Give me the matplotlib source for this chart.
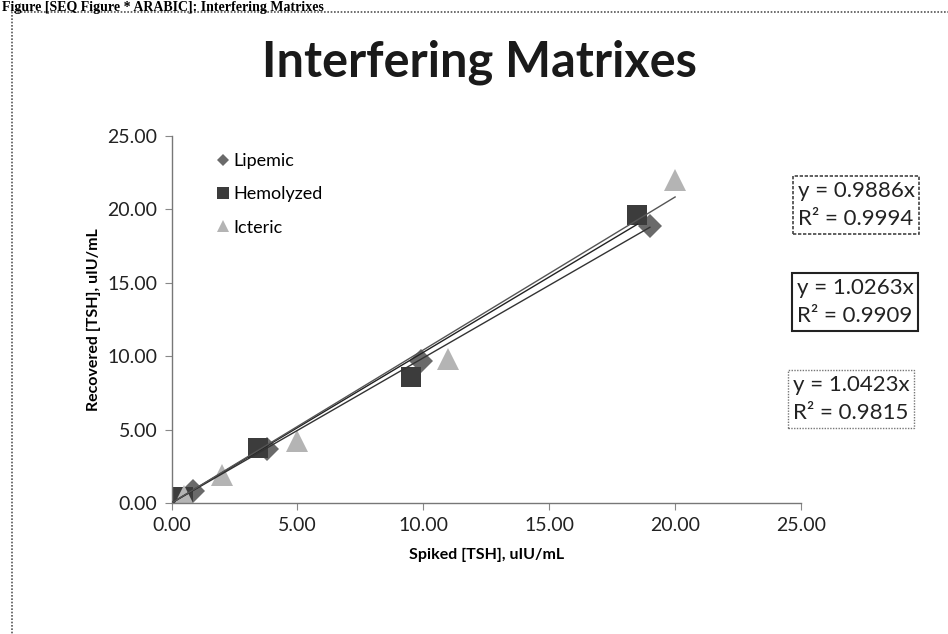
import matplotlib
matplotlib.use("Agg")
import matplotlib.pyplot as plt
import numpy as np
from matplotlib.lines import Line2D
from matplotlib.patches import Rectangle

# ---- data ----
series_names = ["Lipemic", "Hemolyzed", "Icteric"]
lipemic_x = [0.85, 3.8, 9.9, 19.0]
lipemic_y = [0.85, 3.7, 9.7, 18.9]
hemolyzed_x = [0.45, 3.45, 9.5, 18.5]
hemolyzed_y = [0.4, 3.75, 8.6, 19.6]
icteric_x = [0.5, 2.0, 5.0, 11.0, 20.0]
icteric_y = [0.5, 1.9, 4.2, 9.8, 22.0]
slopes = [0.9886, 1.0263, 1.0423]
r2 = [0.9994, 0.9909, 0.9815]
x_ticks = [0, 5, 10, 15, 20, 25]
y_ticks = [0, 5, 10, 15, 20, 25]

W, H = 948, 634
fig = plt.figure(figsize=(W / 100, H / 100), dpi=100)
fig.patch.set_facecolor("white")

FONT = "Lato"

# header
fig.text(2 / W, 1 - 1 / H, "Figure [SEQ Figure * ARABIC]: Interfering Matrixes",
         family="Liberation Serif", fontweight="bold", fontsize=10,
         ha="left", va="top", color="black")

# outer dotted border
border = Rectangle((12 / W, -0.01), 1.0, 1 - 12 / H + 0.01, transform=fig.transFigure,
                   fill=False, edgecolor="#555555", linestyle=(0, (1, 1)), linewidth=1.2)
fig.add_artist(border)

ax = fig.add_axes([171.5 / W, 1 - 503 / H, (801 - 171.5) / W, (503 - 136) / H])
ax.set_xlim(0, 25)
ax.set_ylim(0, 25)

colors = ["#6a6a6a", "#3c3c3c", "#b4b4b4"]
markers = ["D", "s", "^"]
msizes = [12, 15, 16]
data = [(lipemic_x, lipemic_y), (hemolyzed_x, hemolyzed_y), (icteric_x, icteric_y)]
line_colors = ["#333333", "#222222", "#555555"]

for (xs, ys), s, lc in zip(data, slopes, line_colors):
    xx = np.array([0, max(xs)])
    ax.plot(xx, s * xx, color=lc, linewidth=1.0, zorder=3)

for (xs, ys), c, m, ms, name in zip(data, colors, markers, msizes, series_names):
    ax.plot(xs, ys, linestyle="none", marker=m, markersize=ms, color=c,
            markeredgewidth=0, label=name, zorder=2)

for side in ["top", "right"]:
    ax.spines[side].set_visible(False)
for side in ["left", "bottom"]:
    ax.spines[side].set_linestyle((0, (1, 1)))
    ax.spines[side].set_color("#777777")
    ax.spines[side].set_linewidth(1.0)

ax.set_xticks(x_ticks)
ax.set_yticks(y_ticks)
ax.set_xticklabels([f"{v:.2f}" for v in x_ticks], family=FONT, fontsize=14, color="#222222")
ax.set_yticklabels([f"{v:.2f}" for v in y_ticks], family=FONT, fontsize=14, color="#222222")
ax.tick_params(axis="both", direction="out", length=5, width=0.8, color="#888888", pad=5)

ax.set_xlabel("Spiked [TSH], uIU/mL", family=FONT, fontweight="bold", fontsize=11.5, labelpad=10)
ax.set_ylabel("Recovered [TSH], uIU/mL", family=FONT, fontweight="bold", fontsize=11.5, labelpad=5)

fig.text(479 / W, 1 - 62 / H, "Interfering Matrixes", family=FONT, fontweight="bold",
         fontsize=35, ha="center", va="center", color="#1a1a1a")

handles = [Line2D([], [], linestyle="none", marker=m, color=c, markersize=ms * 0.55, markeredgewidth=0)
           for c, m, ms in zip(colors, markers, msizes)]
leg = ax.legend(handles, series_names, loc="upper left", bbox_to_anchor=(210 / W, 1 - 146 / H),
                bbox_transform=fig.transFigure, frameon=False, prop={"family": FONT, "size": 13},
                handlelength=0.6, handletextpad=0.3, labelspacing=0.95, borderaxespad=0)

box_styles = [
    dict(edgecolor="#444444", linestyle=(0, (2, 1)), linewidth=1.2),
    dict(edgecolor="#222222", linestyle="-", linewidth=1.5),
    dict(edgecolor="#777777", linestyle=(0, (1, 1)), linewidth=1.0),
]
box_pos = [(856, 205), (855, 302), (851, 399)]
for s, r, (bx, by), st in zip(slopes, r2, box_pos, box_styles):
    fig.text(bx / W, 1 - by / H, f"y = {s:.4f}x\nR² = {r:.4f}", family=FONT, fontsize=16,
             ha="center", va="center", linespacing=1.55, color="#222222",
             bbox=dict(boxstyle="square,pad=0.22", facecolor="white", **st))

fig.savefig("out.png", dpi=100)
